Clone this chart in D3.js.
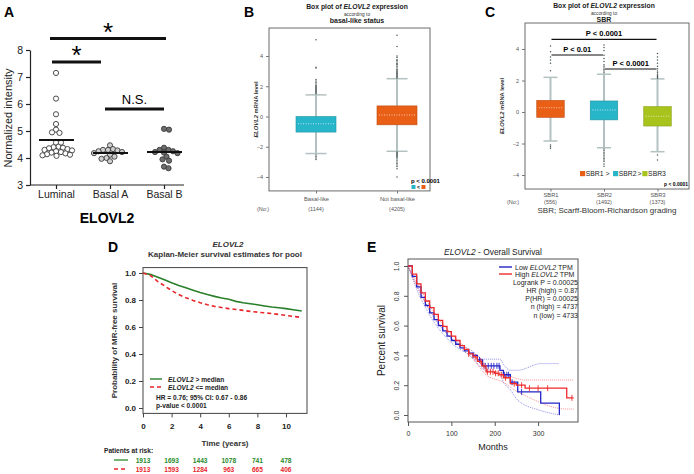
<!DOCTYPE html>
<html>
<head>
<meta charset="utf-8">
<script src="https://cdn.jsdelivr.net/npm/d3@7"></script>
<style>
  body { margin: 0; background: #fff; }
  svg { display: block; font-family: "Liberation Sans", Arial, sans-serif; }
</style>
</head>
<body>
<svg id="fig" width="694" height="474"></svg>
<script>
// ---------- data ----------
// A: normalized intensity per cell-line group
const groupsA = ['Luminal', 'Basal A', 'Basal B'];
const luminalVals = [7.15, 6.2, 5.62, 5.26, 5.05, 4.93, 4.95, 4.57, 4.42, 4.57,
  4.4, 4.38, 4.36, 4.33, 4.3, 4.28, 4.25, 4.22, 4.2, 4.17, 4.14, 4.12, 4.1, 4.08];
const basalAVals = [4.47, 4.33, 4.3, 4.3, 4.28, 4.25, 4.22, 4.18, 4.12, 4.05, 4.0, 3.97, 3.88];
const basalBVals = [5.08, 5.05, 4.38, 4.3, 4.3, 4.25, 4.22, 4.2, 4.18, 4.05, 3.95, 3.9, 3.68, 3.62];
const ticksA = [3, 4, 5, 6, 7, 8];

// B: box plot by basal-like status
const groupsB = ['Basal-like', 'Not basal-like'];
const countsB = ['(1144)', '(4205)'];
const q1B = [-1.03, -0.55];
const medB = [-0.48, 0.1];
const q3B = [0.0, 0.7];
const loB = [-2.45, -2.3];
const hiB = [1.43, 2.5];
const outHiB = [
  [5.07, 3.25, 3.2, 2.45, 2.35, 2.25, 2.15, 2.05, 2.0, 1.95, 1.9, 1.85, 1.8, 1.75, 1.7, 1.65, 1.6, 1.55, 1.5],
  [5.38, 4.63, 4.0, 3.9, 3.75, 3.7, 3.6, 3.5, 3.45, 3.4, 3.3, 3.2, 3.1, 3.05, 3.0, 2.95, 2.9, 2.85, 2.8, 2.75, 2.7, 2.65, 2.6, 2.55]
];
const outLoB = [
  [-2.55, -2.65, -2.75, -2.85],
  [-2.35, -2.4, -2.45, -2.5, -2.55, -2.6, -2.65, -2.7, -2.8, -2.9, -3.0, -3.1, -3.2, -3.3, -3.45, -4.0]
];
const colorsB = ['#27b6c9', '#ea5f16'];

// C: box plot by SBR grade
const groupsC = ['SBR1', 'SBR2', 'SBR3'];
const countsC = ['(556)', '(1492)', '(1373)'];
const q1C = [-0.34, -0.5, -0.89];
const medC = [0.27, 0.13, -0.27];
const q3C = [0.74, 0.7, 0.34];
const loC = [-1.84, -2.27, -2.52];
const hiC = [2.2, 2.4, 2.1];
const outHiC = [
  [4.19, 3.83, 3.5, 3.3, 3.1, 2.62],
  [4.25, 4.1, 3.9, 3.6, 3.4, 3.2, 3.0, 2.9, 2.8, 2.7, 2.6, 2.5],
  [3.72, 3.5, 3.3, 3.1, 2.9, 2.75, 2.6, 2.5, 2.4, 2.3, 2.25, 2.2, 2.15]
];
const outLoC = [
  [-2.1, -2.2, -2.3],
  [-2.35, -2.45, -2.55, -2.65, -2.75, -2.85, -2.95, -3.05, -3.15, -3.3, -3.45],
  [-2.73, -3.05]
];
const colorsC = ['#ea5f16', '#27b6c9', '#a8c41c'];

// D: Kaplan-Meier MR-free survival (years)
const yearsD = [0, 0.5, 1, 1.5, 2, 2.5, 3, 3.5, 4, 4.5, 5, 5.5, 6, 6.5, 7, 7.5, 8, 8.5, 9, 9.5, 10, 10.5, 11, 11.1];
const survHighD = [1, 0.99, 0.97, 0.95, 0.928, 0.908, 0.89, 0.872, 0.855, 0.84, 0.827, 0.815, 0.805, 0.79,
  0.78, 0.772, 0.765, 0.756, 0.748, 0.742, 0.736, 0.728, 0.72, 0.718];
const survLowD = [1, 0.983, 0.94, 0.905, 0.87, 0.84, 0.817, 0.797, 0.78, 0.765, 0.753, 0.744, 0.736, 0.73,
  0.723, 0.716, 0.71, 0.705, 0.7, 0.693, 0.686, 0.679, 0.672, 0.67];
const ticksD = [0, 2, 4, 6, 8, 10];
const riskHighD = [1913, 1693, 1443, 1078, 741, 478];
const riskLowD = [1913, 1593, 1284, 963, 665, 406];

// E: overall survival (months)
const monthsLowE = [0, 10, 20, 30, 40, 50, 60, 70, 80, 90, 100, 110, 120, 130, 140, 150, 160, 172, 212, 220, 236, 253, 306, 349];
const survLowE = [1, 0.93, 0.86, 0.79, 0.735, 0.685, 0.64, 0.6, 0.565, 0.53, 0.5, 0.475, 0.45, 0.43, 0.415, 0.4, 0.37, 0.33, 0.3, 0.27, 0.22, 0.155, 0.08, 0];
const monthsHighE = [0, 10, 20, 30, 40, 50, 60, 70, 80, 90, 100, 110, 120, 130, 140, 150, 160, 170, 180, 200, 210, 220, 236, 250, 270, 366, 382];
const survHighE = [1, 0.945, 0.88, 0.82, 0.765, 0.72, 0.675, 0.635, 0.595, 0.56, 0.53, 0.5, 0.465, 0.44, 0.41, 0.39, 0.36, 0.33, 0.29, 0.28, 0.27, 0.25, 0.21, 0.2, 0.18, 0.115, 0.115];
const ciMonthsLowE = [0, 20, 50, 100, 150, 172, 212, 220, 236, 253, 306, 349];
const ciUpLowE = [1, 0.875, 0.7, 0.515, 0.425, 0.375, 0.375, 0.34, 0.3, 0.3, 0.345, 0.345];
const ciDnLowE = [1, 0.845, 0.67, 0.485, 0.38, 0.31, 0.27, 0.22, 0.17, 0.1, 0.03, 0];
const ciMonthsHighE = [0, 20, 50, 100, 150, 180, 220, 250, 270, 366, 382];
const ciUpHighE = [1, 0.895, 0.735, 0.545, 0.405, 0.31, 0.28, 0.245, 0.235, 0.235, 0.235];
const ciDnHighE = [1, 0.865, 0.705, 0.515, 0.375, 0.27, 0.22, 0.16, 0.13, 0.04, 0.04];
const censorLowE = [150, 165, 178, 185, 192, 198, 205, 210, 222, 228, 232, 240, 262];
const censorHighE = [140, 155, 168, 175, 183, 190, 196, 202, 208, 215, 225, 245, 262, 280, 300, 322, 378];
const ticksE = [0, 100, 200, 300];

// ---------- helpers ----------
const svg = d3.select('#fig');
svg.append('rect').attr('width', 694).attr('height', 474).attr('fill', '#fff');

function panelLetter(x, y, t) {
  svg.append('text').attr('x', x).attr('y', y)
    .style('font-size', '14px').style('font-weight', 'bold').text(t);
}

// simple deterministic beeswarm: closest free spot to the centre
function swarm(values, cx, y, r) {
  const placed = [];
  return values.map(v => {
    const py = y(v);
    let px = cx;
    for (let k = 0; k < 400; k++) {
      const off = (k % 2 ? 1 : -1) * Math.ceil(k / 2) * 0.5;
      if (placed.every(p => (p.x - cx - off) ** 2 + (p.y - py) ** 2 >= (2 * r) ** 2)) { px = cx + off; break; }
    }
    placed.push({ x: px, y: py });
    return { x: px, y: py };
  });
}

// ---------- Panel A ----------
panelLetter(4, 17, 'A');
const yA = d3.scaleLinear().domain([3, 8]).range([185, 50]);
const xA = d3.scalePoint().domain(groupsA).range([56, 164]);
const gA = svg.append('g');

gA.append('g').attr('transform', 'translate(30,0)')
  .call(d3.axisLeft(yA).tickValues(ticksA).tickFormat(d3.format('d')).tickSize(4).tickSizeOuter(0))
  .call(g => g.selectAll('text').style('font-size', '10.5px').style('font-family', 'Liberation Sans, Arial').attr('fill', '#222'))
  .call(g => g.selectAll('path,line').attr('stroke', '#222').attr('stroke-width', 1.2));

gA.append('line').attr('x1', 30).attr('x2', 184).attr('y1', 185).attr('y2', 185)
  .attr('stroke', '#222').attr('stroke-width', 1.2);
gA.append('g').attr('transform', 'translate(0,185)')
  .call(d3.axisBottom(xA).tickSize(4).tickPadding(2))
  .call(g => g.select('.domain').remove())
  .call(g => g.selectAll('text').style('font-size', '10.5px').style('font-family', 'Liberation Sans, Arial').attr('fill', '#222'))
  .call(g => g.selectAll('line').attr('stroke', '#222').attr('stroke-width', 1.2));

gA.append('text').attr('transform', 'translate(12,118) rotate(-90)')
  .attr('text-anchor', 'middle').style('font-size', '11px').attr('fill', '#222').text('Normalized intensity');
gA.append('text').attr('x', 107).attr('y', 223).attr('text-anchor', 'middle')
  .style('font-size', '14px').style('font-weight', 'bold').text('ELOVL2');

const fillsA = ['#ffffff', '#cfcfcf', '#6d6d6d'];
[luminalVals, basalAVals, basalBVals].forEach((vals, i) => {
  const cx = xA(groupsA[i]);
  const pts = swarm(vals, cx, yA, 2.3);
  gA.selectAll(null).data(pts).enter().append('circle')
    .attr('cx', d => d.x).attr('cy', d => d.y).attr('r', 2.6)
    .attr('fill', fillsA[i]).attr('stroke', '#3a3a3a').attr('stroke-width', 0.9);
  gA.append('line').attr('x1', cx - 17).attr('x2', cx + 18)
    .attr('y1', yA(d3.mean(vals))).attr('y2', yA(d3.mean(vals)))
    .attr('stroke', '#111').attr('stroke-width', 2);
});

// significance bars
function sigBar(g, x1, x2, y, label, size) {
  g.append('line').attr('x1', x1).attr('x2', x2).attr('y1', y).attr('y2', y)
    .attr('stroke', '#111').attr('stroke-width', 3);
  g.append('text').attr('x', (x1 + x2) / 2).attr('y', label === '*' ? y + 2 : y - 5)
    .attr('text-anchor', 'middle').style('font-size', size).text(label);
}
sigBar(gA, 50, 166, 38.5, '*', '26px');
sigBar(gA, 52, 101, 62, '*', '26px');
sigBar(gA, 105, 164, 109, 'N.S.', '13px');

// ---------- box plot helper (B, C) ----------
function boxPanel(opt) {
  const g = svg.append('g');
  const y = opt.y, x = opt.x;
  g.append('rect').attr('x', opt.left).attr('y', opt.top)
    .attr('width', opt.right - opt.left).attr('height', opt.bottom - opt.top)
    .attr('fill', 'none').attr('stroke', '#6b6b6b').attr('stroke-width', 1);

  g.append('g').attr('transform', `translate(${opt.left},0)`)
    .call(d3.axisLeft(y).tickValues([-4, -2, 0, 2, 4]).tickSize(3).tickPadding(3))
    .call(a => a.select('.domain').remove())
    .call(a => a.selectAll('line').attr('stroke', '#777'))
    .call(a => a.selectAll('text').style('font-size', '5.5px').style('font-family', 'Liberation Sans, Arial').attr('fill', '#555'));
  g.append('g').attr('transform', `translate(0,${opt.bottom})`)
    .call(d3.axisBottom(x).tickSize(2.5).tickPadding(opt.catPad))
    .call(a => a.select('.domain').remove())
    .call(a => a.selectAll('line').attr('stroke', '#777'))
    .call(a => a.selectAll('text').style('font-size', '5.8px').style('font-family', 'Liberation Sans, Arial').attr('fill', '#555'));

  opt.cats.forEach((c, i) => {
    const cx = x(c);
    g.append('line').attr('x1', cx).attr('x2', cx).attr('y1', y(opt.lo[i])).attr('y2', y(opt.hi[i]))
      .attr('stroke', '#b3c1c1').attr('stroke-width', 2);
    [opt.lo[i], opt.hi[i]].forEach(v => {
      g.append('line').attr('x1', cx - opt.cw / 2).attr('x2', cx + opt.cw / 2).attr('y1', y(v)).attr('y2', y(v))
        .attr('stroke', '#b3c1c1').attr('stroke-width', 1.5);
    });
    g.selectAll(null).data(opt.outHi[i].concat(opt.outLo[i])).enter().append('circle')
      .attr('cx', cx).attr('cy', d => y(d)).attr('r', 0.75).attr('fill', '#4a5656');
    g.append('rect').attr('x', cx - opt.bw / 2).attr('width', opt.bw)
      .attr('y', y(opt.q3[i])).attr('height', y(opt.q1[i]) - y(opt.q3[i]))
      .attr('fill', opt.colors[i]).attr('stroke', d3.color(opt.colors[i]).darker(0.6)).attr('stroke-width', 0.6);
    g.append('line').attr('x1', cx - opt.bw / 2 + 2).attr('x2', cx + opt.bw / 2 - 2)
      .attr('y1', y(opt.med[i])).attr('y2', y(opt.med[i]))
      .attr('stroke', '#fff').attr('stroke-width', 0.8).attr('stroke-dasharray', '1,1.5').attr('opacity', 0.85);
    g.append('text').attr('x', cx).attr('y', opt.countY).attr('text-anchor', 'middle')
      .style('font-size', '5.5px').attr('fill', '#555').text(opt.counts[i]);
  });
  g.append('text').attr('x', opt.noX).attr('y', opt.countY).attr('text-anchor', 'middle')
    .style('font-size', '5.5px').attr('fill', '#555').text('(No:)');

  // titles
  const t = g.append('text').attr('x', opt.titleX).attr('y', opt.titleY).attr('text-anchor', 'middle')
    .style('font-size', '6.8px').style('font-weight', 'bold').attr('fill', '#222');
  t.append('tspan').text('Box plot of ');
  t.append('tspan').style('font-style', 'italic').text('ELOVL2');
  t.append('tspan').text(' expression');
  g.append('text').attr('x', opt.titleX).attr('y', opt.titleY + 6.5).attr('text-anchor', 'middle')
    .style('font-size', '4.8px').attr('fill', '#333').text('according to');
  g.append('text').attr('x', opt.titleX).attr('y', opt.titleY + 14).attr('text-anchor', 'middle')
    .style('font-size', '7px').style('font-weight', 'bold').attr('fill', '#222').text(opt.subtitle);

  const yl = g.append('text').attr('transform', `translate(${opt.ylabX},${(opt.top + opt.bottom) / 2}) rotate(-90)`)
    .attr('text-anchor', 'middle').style('font-size', '5.8px').style('font-weight', 'bold').attr('fill', '#333');
  yl.append('tspan').style('font-style', 'italic').text('ELOVL2');
  yl.append('tspan').text(' mRNA level');
  return g;
}

// ---------- Panel B ----------
panelLetter(244, 17, 'B');
const yB = d3.scaleLinear().domain([-4, 4]).range([177, 56]);
const xB = d3.scalePoint().domain(groupsB).range([316, 397]);
const gB = boxPanel({
  x: xB, y: yB, cats: groupsB, counts: countsB, q1: q1B, med: medB, q3: q3B, lo: loB, hi: hiB,
  outHi: outHiB, outLo: outLoB, colors: colorsB, bw: 40, cw: 21,
  left: 269, right: 430, top: yB(5.85), bottom: yB(-4.92), catPad: 3, countY: 211, noX: 263,
  titleX: 357, titleY: 9, subtitle: 'basal-like status', ylabX: 258
});
gB.append('text').attr('x', 411).attr('y', 183).style('font-size', '6px').style('font-weight', 'bold').text('p < 0.0001');
gB.append('rect').attr('x', 411.5).attr('y', 185).attr('width', 4).attr('height', 4).attr('fill', colorsB[0]);
gB.append('text').attr('x', 417).attr('y', 189).style('font-size', '5px').style('font-weight', 'bold').text('<');
gB.append('rect').attr('x', 421.5).attr('y', 185).attr('width', 4).attr('height', 4).attr('fill', colorsB[1]);

// ---------- Panel C ----------
panelLetter(485, 17, 'C');
const yC = d3.scaleLinear().domain([-4, 4]).range([175, 49]);
const xC = d3.scalePoint().domain(groupsC).range([550.5, 657.5]);
const gC = boxPanel({
  x: xC, y: yC, cats: groupsC, counts: countsC, q1: q1C, med: medC, q3: q3C, lo: loC, hi: hiC,
  outHi: outHiC, outLo: outLoC, colors: colorsC, bw: 27.5, cw: 14,
  left: 525, right: 689, top: yC(5.65), bottom: yC(-4.89), catPad: 1.5, countY: 204, noX: 513,
  titleX: 604, titleY: 8, subtitle: 'SBR', ylabX: 504
});
gC.append('text').attr('x', 607).attr('y', 213).attr('text-anchor', 'middle')
  .style('font-size', '8px').attr('fill', '#333').text('SBR; Scarff-Bloom-Richardson grading');
// pairwise bars
[[0, 2, 39.3, 'P < 0.0001'], [0, 1, 55, 'P < 0.01'], [1, 2, 69, 'P < 0.0001']].forEach(([a, b, yy, lab]) => {
  const x1 = xC(groupsC[a]) + 1, x2 = xC(groupsC[b]) - 1;
  gC.append('line').attr('x1', x1).attr('x2', x2).attr('y1', yy).attr('y2', yy)
    .attr('stroke', '#111').attr('stroke-width', 1.2);
  gC.append('text').attr('x', (x1 + x2) / 2).attr('y', yy - 3).attr('text-anchor', 'middle')
    .style('font-size', '7.5px').style('font-weight', 'bold').text(lab);
});
// legend
const legC = [['SBR1 >', 580], ['SBR2', 613], ['SBR3', 642.3]];
legC.forEach(([lab, lx], i) => {
  gC.append('rect').attr('x', lx).attr('y', 171).attr('width', 5.2).attr('height', 5.2).attr('fill', colorsC[i]);
  gC.append('text').attr('x', lx + 5.8).attr('y', 176.3).style('font-size', '6.8px').attr('fill', '#222').text(lab);
});
gC.append('text').attr('x', 637.6).attr('y', 176.3).style('font-size', '6.8px').attr('fill', '#222').text('>');
gC.append('text').attr('x', 688).attr('y', 185.5).attr('text-anchor', 'end')
  .style('font-size', '5px').style('font-weight', 'bold').text('p < 0.0001');

// ---------- Panel D ----------
panelLetter(108, 252, 'D');
const xD = d3.scaleLinear().domain([0, 11.47]).range([143, 307]);
const yD = d3.scaleLinear().domain([0, 1]).range([408, 273]);
const gD = svg.append('g');
const topD = yD(1.04), botD = yD(-0.04);
gD.append('rect').attr('x', 143).attr('y', topD).attr('width', 164).attr('height', botD - topD)
  .attr('fill', 'none').attr('stroke', '#444').attr('stroke-width', 1);
gD.append('g').attr('transform', 'translate(143,0)')
  .call(d3.axisLeft(yD).tickValues([0, 0.2, 0.4, 0.6, 0.8, 1]).tickFormat(d3.format('.1f')).tickSize(4).tickPadding(3))
  .call(a => a.select('.domain').remove())
  .call(a => a.selectAll('line').attr('stroke', '#444'))
  .call(a => a.selectAll('text').style('font-size', '8px').style('font-weight', 'bold').style('font-family', 'Liberation Sans, Arial').attr('fill', '#222'));
gD.append('g').attr('transform', `translate(0,${botD})`)
  .call(d3.axisBottom(xD).tickValues(ticksD).tickSize(4).tickPadding(6))
  .call(a => a.select('.domain').remove())
  .call(a => a.selectAll('line').attr('stroke', '#444'))
  .call(a => a.selectAll('text').style('font-size', '8px').style('font-weight', 'bold').style('font-family', 'Liberation Sans, Arial').attr('fill', '#222'));

gD.append('text').attr('x', 228).attr('y', 247).attr('text-anchor', 'middle')
  .style('font-size', '8px').style('font-weight', 'bold').style('font-style', 'italic').attr('fill', '#333').text('ELOVL2');
gD.append('text').attr('x', 225).attr('y', 257).attr('text-anchor', 'middle')
  .style('font-size', '8px').style('font-weight', 'bold').attr('fill', '#333').text('Kaplan-Meier survival estimates for pool');
gD.append('text').attr('transform', `translate(117,${(topD + botD) / 2}) rotate(-90)`).attr('text-anchor', 'middle')
  .style('font-size', '8px').style('font-weight', 'bold').attr('fill', '#333').text('Probability of MR-free survival');
gD.append('text').attr('x', 225).attr('y', 446).attr('text-anchor', 'middle')
  .style('font-size', '8px').style('font-weight', 'bold').attr('fill', '#333').text('Time (years)');

const lineD = d3.line().x(d => xD(d[0])).y(d => yD(d[1]));
gD.append('path').datum(d3.zip(yearsD, survHighD)).attr('d', lineD)
  .attr('fill', 'none').attr('stroke', '#2a7f2a').attr('stroke-width', 1.6);
gD.append('path').datum(d3.zip(yearsD, survLowD)).attr('d', lineD)
  .attr('fill', 'none').attr('stroke', '#e8262b').attr('stroke-width', 1.6).attr('stroke-dasharray', '4,3');

// legend inside D
gD.append('line').attr('x1', 150).attr('x2', 162).attr('y1', 379).attr('y2', 379).attr('stroke', '#2a7f2a').attr('stroke-width', 1.4);
gD.append('line').attr('x1', 150).attr('x2', 162).attr('y1', 387).attr('y2', 387).attr('stroke', '#e8262b').attr('stroke-width', 1.4).attr('stroke-dasharray', '4,3');
[['> median', 381.5], ['<= median', 389.5]].forEach(([s, yy]) => {
  const t = gD.append('text').attr('x', 168).attr('y', yy).style('font-size', '6.6px').style('font-weight', 'bold').attr('fill', '#222');
  t.append('tspan').style('font-style', 'italic').text('ELOVL2');
  t.append('tspan').text(' ' + s);
});
gD.append('text').attr('x', 156).attr('y', 399.5).style('font-size', '6.6px').style('font-weight', 'bold').attr('fill', '#222')
  .text('HR = 0.76; 95% CI: 0.67 - 0.86');
gD.append('text').attr('x', 156).attr('y', 407.5).style('font-size', '6.6px').style('font-weight', 'bold').attr('fill', '#222')
  .text('p-value < 0.0001');

// risk table
gD.append('text').attr('x', 104).attr('y', 453).style('font-size', '6.6px').style('font-weight', 'bold').attr('fill', '#222').text('Patients at risk:');
[[riskHighD, '#2a8a2a', 462.5, null], [riskLowD, '#e8262b', 471.5, '4,3']].forEach(([vals, col, yy, dash]) => {
  gD.append('line').attr('x1', 114).attr('x2', 128).attr('y1', yy - 2.5).attr('y2', yy - 2.5)
    .attr('stroke', col).attr('stroke-width', 1.3).attr('stroke-dasharray', dash);
  gD.selectAll(null).data(vals).enter().append('text')
    .attr('x', (d, i) => xD(ticksD[i])).attr('y', yy).attr('text-anchor', 'middle')
    .style('font-size', '6.6px').style('font-weight', 'bold').attr('fill', col).text(d => d);
});

// ---------- Panel E ----------
panelLetter(367, 252, 'E');
const xE = d3.scaleLinear().domain([0, 392]).range([408, 578]);
const yE = d3.scaleLinear().domain([0, 1]).range([415, 266]);
const gE = svg.append('g');
const topE = yE(1.047), botE = yE(-0.047);
gE.append('rect').attr('x', 408).attr('y', topE).attr('width', 170).attr('height', botE - topE)
  .attr('fill', 'none').attr('stroke', '#555').attr('stroke-width', 1);
gE.append('g').attr('transform', 'translate(408,0)')
  .call(d3.axisLeft(yE).tickValues([0, 0.2, 0.4, 0.6, 0.8, 1]).tickFormat(d3.format('.1f')).tickSize(4).tickPadding(2))
  .call(a => a.select('.domain').remove())
  .call(a => a.selectAll('line').attr('stroke', '#555'))
  .call(a => a.selectAll('text').attr('transform', 'rotate(-90)').attr('x', 0).attr('dx', 0).attr('y', -9)
    .attr('dy', 0).attr('text-anchor', 'middle')
    .style('font-size', '7px').style('font-family', 'Liberation Sans, Arial').attr('fill', '#333'));
gE.append('g').attr('transform', `translate(0,${botE})`)
  .call(d3.axisBottom(xE).tickValues(ticksE).tickSize(4).tickPadding(5))
  .call(a => a.select('.domain').remove())
  .call(a => a.selectAll('line').attr('stroke', '#555'))
  .call(a => a.selectAll('text').style('font-size', '7px').style('font-family', 'Liberation Sans, Arial').attr('fill', '#333'));

const tE = gE.append('text').attr('x', 493).attr('y', 255).attr('text-anchor', 'middle').style('font-size', '8.4px').attr('fill', '#222');
tE.append('tspan').style('font-style', 'italic').text('ELOVL2');
tE.append('tspan').text(' - Overall Survival');
gE.append('text').attr('transform', `translate(385,${(topE + botE) / 2}) rotate(-90)`).attr('text-anchor', 'middle')
  .style('font-size', '10px').attr('fill', '#222').text('Percent survival');
gE.append('text').attr('x', 493).attr('y', 450).attr('text-anchor', 'middle')
  .style('font-size', '9px').attr('fill', '#222').text('Months');

const stepE = d3.line().x(d => xE(d[0])).y(d => yE(d[1])).curve(d3.curveStepAfter);
const blueE = '#2424c8', redE = '#ee2a2a';
// confidence limits
[[ciMonthsLowE, ciUpLowE, blueE], [ciMonthsLowE, ciDnLowE, blueE],
 [ciMonthsHighE, ciUpHighE, redE], [ciMonthsHighE, ciDnHighE, redE]].forEach(([t, s, col]) => {
  gE.append('path').datum(d3.zip(t, s)).attr('d', d3.line().x(d => xE(d[0])).y(d => yE(d[1])).curve(d3.curveMonotoneX))
    .attr('fill', 'none').attr('stroke', col).attr('stroke-width', 0.7).attr('stroke-dasharray', '1,1').attr('opacity', 0.75);
});
function survAt(times, surv, t) {
  const i = d3.bisectRight(times, t) - 1;
  return surv[Math.max(0, i)];
}
[[monthsLowE, survLowE, censorLowE, blueE], [monthsHighE, survHighE, censorHighE, redE]].forEach(([t, s, cens, col]) => {
  gE.append('path').datum(d3.zip(t, s)).attr('d', stepE)
    .attr('fill', 'none').attr('stroke', col).attr('stroke-width', 1.3);
  gE.selectAll(null).data(cens).enter().append('line')
    .attr('x1', d => xE(d)).attr('x2', d => xE(d))
    .attr('y1', d => yE(survAt(t, s, d)) - 3).attr('y2', d => yE(survAt(t, s, d)) + 3)
    .attr('stroke', col).attr('stroke-width', 0.9);
});

// legend E
gE.append('line').attr('x1', 499).attr('x2', 512).attr('y1', 267).attr('y2', 267).attr('stroke', blueE).attr('stroke-width', 1.4);
gE.append('line').attr('x1', 499).attr('x2', 512).attr('y1', 274).attr('y2', 274).attr('stroke', redE).attr('stroke-width', 1.4);
[['Low ', 269.5], ['High ', 276.5]].forEach(([s, yy]) => {
  const t = gE.append('text').attr('x', 515).attr('y', yy).style('font-size', '7px').attr('fill', '#222');
  t.append('tspan').text(s);
  t.append('tspan').style('font-style', 'italic').text('ELOVL2');
  t.append('tspan').text(' TPM');
});
['Logrank P = 0.00025', 'HR (high) = 0.87', 'P(HR) = 0.00025', 'n (high) = 4737', 'n (low) = 4733']
  .forEach((s, i) => {
    gE.append('text').attr('x', 578).attr('y', 284.5 + i * 8.3).attr('text-anchor', 'end')
      .style('font-size', '7px').attr('fill', '#222').text(s);
  });
</script>
</body>
</html>
